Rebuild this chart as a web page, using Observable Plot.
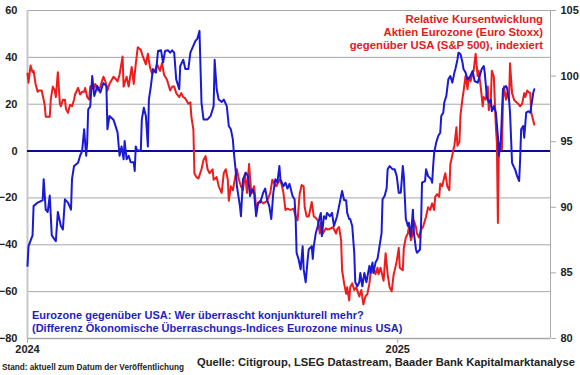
<!DOCTYPE html>
<html>
<head>
<meta charset="utf-8">
<script src="https://cdn.jsdelivr.net/npm/d3@7"></script>
<script src="https://cdn.jsdelivr.net/npm/@observablehq/plot@0.6"></script>
<style>
  body { margin: 0; background: #fff; }
  #wrap { position: relative; width: 580px; height: 375px; font-family: "Liberation Sans", Arial, sans-serif; overflow: hidden; }
  .note { position: absolute; font-weight: bold; white-space: nowrap; line-height: 13.5px; }
  #redNote { right: 37px; top: 13px; text-align: right; color: #e41b1b; font-size: 11.3px; line-height: 13.2px; }
  #blueNote { left: 32px; top: 309px; text-align: left; color: #1f1fc0; font-size: 11px; line-height: 13px; }
  #stand { left: 2px; top: 361px; font-size: 8.2px; color: #222; }
  #quelle { right: 5px; top: 356px; font-size: 11.2px; color: #222; }
</style>
</head>
<body>
<div id="wrap"></div>
<script>
// Blue series: Eurozone minus USA economic surprise index difference (left axis)
const surpriseDates = [
"2024-01-01","2024-01-02","2024-01-06","2024-01-07","2024-01-11","2024-01-16","2024-01-17","2024-01-19","2024-01-21","2024-01-23",
"2024-01-25","2024-01-29","2024-01-31","2024-02-03","2024-02-05","2024-02-07","2024-02-10","2024-02-13","2024-02-14","2024-02-16",
"2024-02-20","2024-02-22","2024-02-24","2024-02-26","2024-02-28","2024-02-29","2024-03-01","2024-03-03","2024-03-05","2024-03-07",
"2024-03-10","2024-03-13","2024-03-16","2024-03-19","2024-03-20","2024-03-22","2024-03-26","2024-03-30","2024-04-01","2024-04-03",
"2024-04-05","2024-04-06","2024-04-08","2024-04-10","2024-04-12","2024-04-15","2024-04-16","2024-04-17","2024-04-18","2024-04-22",
"2024-04-23","2024-04-25","2024-04-27","2024-04-29","2024-04-30","2024-05-02","2024-05-04","2024-05-07","2024-05-09","2024-05-12",
"2024-05-14","2024-05-16","2024-05-19","2024-05-21","2024-05-23","2024-05-25","2024-05-27","2024-05-30","2024-05-31","2024-06-03",
"2024-06-05","2024-06-08","2024-06-10","2024-06-13","2024-06-15","2024-06-17","2024-06-19","2024-06-21","2024-06-23","2024-06-27",
"2024-06-30","2024-07-03","2024-07-04","2024-07-06","2024-07-08","2024-07-11","2024-07-13","2024-07-16","2024-07-18","2024-07-20",
"2024-07-22","2024-07-23","2024-07-25","2024-07-26","2024-07-29","2024-07-30","2024-08-01","2024-08-04","2024-08-06","2024-08-08",
"2024-08-10","2024-08-12","2024-08-14","2024-08-16","2024-08-18","2024-08-21","2024-08-23","2024-08-25","2024-08-27","2024-08-29",
"2024-08-31","2024-09-02","2024-09-04","2024-09-06","2024-09-07","2024-09-10","2024-09-12","2024-09-14","2024-09-16","2024-09-19",
"2024-09-21","2024-09-22","2024-09-23","2024-09-25","2024-09-27","2024-09-29","2024-09-30","2024-10-02","2024-10-04","2024-10-05",
"2024-10-08","2024-10-09","2024-10-10","2024-10-12","2024-10-14","2024-10-16","2024-10-17","2024-10-18","2024-10-20","2024-10-22",
"2024-10-23","2024-10-26","2024-10-28","2024-10-30","2024-11-02","2024-11-04","2024-11-06","2024-11-07","2024-11-09","2024-11-11",
"2024-11-12","2024-11-14","2024-11-15","2024-11-17","2024-11-19","2024-11-20","2024-11-22","2024-11-24","2024-11-25","2024-11-27",
"2024-11-29","2024-12-01","2024-12-04","2024-12-05","2024-12-07","2024-12-08","2024-12-10","2024-12-12","2024-12-14","2024-12-16",
"2024-12-17","2024-12-19","2024-12-21","2024-12-22","2024-12-24","2024-12-27","2024-12-29","2024-12-31","2025-01-02","2025-01-04",
"2025-01-06","2025-01-07","2025-01-09","2025-01-11","2025-01-12","2025-01-14","2025-01-16","2025-01-17","2025-01-19","2025-01-20",
"2025-01-23","2025-01-24","2025-01-25","2025-01-28","2025-01-29","2025-01-31","2025-02-03","2025-02-04","2025-02-05","2025-02-06",
"2025-02-08","2025-02-10","2025-02-12","2025-02-13","2025-02-15","2025-02-16","2025-02-18","2025-02-20","2025-02-22","2025-02-24",
"2025-02-26","2025-02-27","2025-03-01","2025-03-02","2025-03-04","2025-03-06","2025-03-07","2025-03-09","2025-03-11","2025-03-13",
"2025-03-16","2025-03-18","2025-03-21","2025-03-22","2025-03-25","2025-03-27","2025-03-28","2025-03-30","2025-04-01","2025-04-03",
"2025-04-04","2025-04-06","2025-04-08","2025-04-10","2025-04-11","2025-04-13","2025-04-14","2025-04-15","2025-04-18","2025-04-19",
"2025-04-21","2025-04-22","2025-04-24","2025-04-26","2025-04-27","2025-04-29","2025-05-01","2025-05-02","2025-05-03","2025-05-05",
"2025-05-06","2025-05-08","2025-05-10","2025-05-12","2025-05-14","2025-05-15","2025-05-16"
];
const surpriseValues = [
-49,-40.6,-36,-23.5,-22,-21,-12,-25,-26,-19,
-36,-38.5,-26,-32,-33.5,-20.6,-22,-25,-12,-6.4,
-5,-2,0,9.3,-2,3.7,17.8,19,32,23.5,
27.8,25,29,27.8,9.3,15,13.4,8,-2,2,
-3.5,4.3,-3.5,-2,-4.8,-4.8,-8.5,2,0.5,0,
13.5,18.5,15,2,22,27.8,35,33.5,42.7,43,
37.8,42.7,43,42,43,42,30.6,26.4,36.3,39,
35,35,42,45,47,48,51.3,20.7,13.5,13.5,
15,19.2,39,26.4,22,21,22,19.2,10.7,9.3,
5,-0.7,-9.2,-15,-23.5,-27.8,-12,-9.2,-10.7,-19.2,
-16.3,-17.8,-27.8,-22,-22,-17.8,-16,-21,-23.5,-29,
-17.8,-12,-13.5,-6.4,-12,-15,-13.5,-16,-14,-19.2,
-20.6,-27.8,-43.4,-46.3,-50.5,-40.6,-50.5,-56,-46,-42,
-40.6,-46,-40.6,-35,-32,-27.8,-26.4,-36.3,-27.8,-29,
-26.4,-27.8,-26.4,-32,-27.8,-23.5,-19.2,-17,-21,-21,
-26.4,-29,-29,-32,-43.4,-56,-57.7,-56,-52,-57.7,
-52,-56,-49,-52,-47.6,-52,-47.6,-46,-40.6,-35,
-20.6,-19.2,-16,-7.8,-6.4,-7.8,-7.8,-10.7,-17.8,-17.8,
-6.4,-10.7,-29,-32,-30.6,-36.3,-25,-35,-42,-43.4,
-42,-32,-13.5,-12.8,-7.8,-10.7,-12,-13.5,-6.4,-0.7,
3.6,6.4,7.8,15,16.4,20.7,23.5,30.6,32,29.2,
33.5,35,39,42,41.4,37.8,35,33.5,30.6,31.3,
34.2,29.9,29.2,30.6,35,36.3,33.5,23.5,20.7,22,
17,19.2,16.4,6.4,-2,5,16.4,26.4,27.8,27,
22,16.4,-5,-7,-7.8,-10.7,-12.8,-3.5,9.3,10.7,
5.7,16.4,17,16.4,22,25,26.4
];

// Red series: relative performance Euro Stoxx vs S&P 500, indexed (right axis)
const relDates = [
"2024-01-01","2024-01-02","2024-01-04","2024-01-06","2024-01-07","2024-01-09","2024-01-11","2024-01-12","2024-01-15","2024-01-17",
"2024-01-18","2024-01-19","2024-01-21","2024-01-23","2024-01-24","2024-01-26","2024-01-28","2024-01-29","2024-01-31","2024-02-02",
"2024-02-03","2024-02-05","2024-02-07","2024-02-08","2024-02-10","2024-02-12","2024-02-14","2024-02-16","2024-02-17","2024-02-20",
"2024-02-22","2024-02-24","2024-02-26","2024-02-27","2024-02-29","2024-03-02","2024-03-03","2024-03-05","2024-03-07","2024-03-08",
"2024-03-11","2024-03-13","2024-03-16","2024-03-18","2024-03-20","2024-03-22","2024-03-26","2024-03-28","2024-03-30","2024-04-01",
"2024-04-04","2024-04-05","2024-04-08","2024-04-10","2024-04-13","2024-04-15","2024-04-17","2024-04-19","2024-04-22","2024-04-24",
"2024-04-27","2024-04-29","2024-05-01","2024-05-03","2024-05-06","2024-05-08","2024-05-11","2024-05-13","2024-05-15","2024-05-18",
"2024-05-21","2024-05-23","2024-05-25","2024-05-27","2024-05-30","2024-06-01","2024-06-03","2024-06-05","2024-06-08","2024-06-10",
"2024-06-11","2024-06-13","2024-06-14","2024-06-16","2024-06-18","2024-06-21","2024-06-23","2024-06-25","2024-06-27","2024-06-29",
"2024-07-02","2024-07-03","2024-07-06","2024-07-08","2024-07-11","2024-07-13","2024-07-15","2024-07-17","2024-07-18","2024-07-20",
"2024-07-22","2024-07-25","2024-07-26","2024-07-28","2024-07-30","2024-08-01","2024-08-03","2024-08-05","2024-08-07","2024-08-09",
"2024-08-10","2024-08-12","2024-08-14","2024-08-16","2024-08-18","2024-08-21","2024-08-23","2024-08-25","2024-08-28","2024-08-30",
"2024-09-01","2024-09-03","2024-09-06","2024-09-08","2024-09-10","2024-09-12","2024-09-14","2024-09-17","2024-09-20","2024-09-22",
"2024-09-24","2024-09-26","2024-09-28","2024-09-30","2024-10-01","2024-10-03","2024-10-05","2024-10-08","2024-10-10","2024-10-12",
"2024-10-14","2024-10-16","2024-10-17","2024-10-19","2024-10-22","2024-10-24","2024-10-27","2024-10-29","2024-11-01","2024-11-02",
"2024-11-04","2024-11-06","2024-11-07","2024-11-09","2024-11-11","2024-11-12","2024-11-14","2024-11-15","2024-11-17","2024-11-19",
"2024-11-21","2024-11-24","2024-11-26","2024-11-28","2024-11-30","2024-12-02","2024-12-04","2024-12-05","2024-12-07","2024-12-08",
"2024-12-10","2024-12-12","2024-12-13","2024-12-15","2024-12-18","2024-12-20","2024-12-22","2024-12-24","2024-12-26","2024-12-28",
"2024-12-29","2024-12-31","2025-01-02","2025-01-03","2025-01-06","2025-01-07","2025-01-09","2025-01-11","2025-01-12","2025-01-14",
"2025-01-16","2025-01-17","2025-01-19","2025-01-20","2025-01-22","2025-01-24","2025-01-26","2025-01-29","2025-01-31","2025-02-02",
"2025-02-04","2025-02-06","2025-02-07","2025-02-09","2025-02-11","2025-02-12","2025-02-14","2025-02-16","2025-02-17","2025-02-19",
"2025-02-21","2025-02-22","2025-02-23","2025-02-25","2025-02-26","2025-02-28","2025-03-01","2025-03-03","2025-03-04","2025-03-06",
"2025-03-07","2025-03-09","2025-03-11","2025-03-12","2025-03-14","2025-03-16","2025-03-17","2025-03-19","2025-03-21","2025-03-22",
"2025-03-24","2025-03-26","2025-03-27","2025-03-29","2025-03-31","2025-04-01","2025-04-03","2025-04-04","2025-04-06","2025-04-08",
"2025-04-09","2025-04-10","2025-04-11","2025-04-12","2025-04-14","2025-04-15","2025-04-16","2025-04-18","2025-04-19","2025-04-21",
"2025-04-22","2025-04-24","2025-04-26","2025-04-27","2025-04-30","2025-05-02","2025-05-04","2025-05-06","2025-05-07","2025-05-09",
"2025-05-10","2025-05-12","2025-05-13","2025-05-15","2025-05-16"
];
const relValues = [
100.2,99.5,100.8,100.3,100.4,99.4,98.8,98.9,98.9,98.2,
97.8,96.9,96.9,96.9,98.2,99.2,98.9,98.4,100.3,97.9,
97.7,98.2,98.2,97.5,97.2,97.8,97.7,98.2,98.6,99.1,
98.6,98.8,98.8,99.1,98.4,98.2,99.2,99.3,99.1,99.4,
98.9,99.2,99.95,99.6,98.9,99.4,99.95,99.8,99.6,100.1,
101.5,99.2,99.95,99.2,100.7,99.4,100.9,102.2,102,101.5,
100.9,101.7,100.7,100.2,100.4,100.9,100.4,101,100.1,99.7,
98.9,99.2,99.2,98.7,98.4,98.7,98.4,98.3,97.9,98,
96.9,95.9,92.6,92.3,92.2,92.9,93.6,93.9,92.9,92.6,
92.9,92.1,92.3,91.6,91.1,92.6,92.9,92.1,90.5,91.6,
91.3,92.6,92.9,92.1,91.6,91.3,92.6,91.1,93.3,91.3,
91.1,91.6,90,90.3,90.5,90.3,90.4,90.5,91.1,92.1,
91.8,91.6,92.1,91.8,91.1,89.8,89.9,89.8,89.9,89.3,
89,91,91.7,91.6,90,89.3,89.3,90.4,89.3,89.2,
89,88,88.8,88,88.4,88.3,88.4,88.5,88,88.3,
88.5,87.5,85.2,84.2,83.4,83.9,82.9,83.9,84.2,83.7,
83.9,83.2,83.7,82.6,83.2,83.4,84.2,84.9,85.2,85.4,
84.9,85.4,84.9,85.4,84.4,86.5,84.9,83.9,83.6,84.9,
85.2,85.9,86.9,85.4,85.2,86.9,87.7,88,88.5,87.5,
88,89,88.5,88,87.7,88.3,88.5,89.3,90,89.8,
90.3,89.8,90.8,91,90.8,91.8,91.6,92.3,92.6,91.6,
91.3,93.3,93.6,94.4,94.7,96.1,94.7,95,97,98.3,
98.8,100,99,99.9,99.6,100.2,100.4,101.7,100,100.4,
99.2,97.7,98.4,98.2,99.2,97.4,98.2,100.4,99.95,96.1,
94.9,88.8,94.9,94.4,94.4,98.2,99.2,98.2,98.7,98.2,
100.97,98.7,98.2,98.1,97.9,97.7,97.9,98.7,98.4,98.9,
98.8,98.7,97.2,96.6,96.3
];

const leftTicks = [-80, -60, -40, -20, 0, 20, 40, 60];
const rightTicks = [80, 85, 90, 95, 100, 105];
const yearTicks = ["2024-01-01", "2025-01-01"];
const xDomain = ["2024-01-01", "2025-06-01"];

const leftDomain = [-80, 60];
const rightDomain = [80, 105];
const k = (leftDomain[1] - leftDomain[0]) / (rightDomain[1] - rightDomain[0]);
const toLeft = r => (r - rightDomain[0]) * k + leftDomain[0];
const fromLeft = v => (v - leftDomain[0]) / k + rightDomain[0];

const blue = surpriseDates.map((d, i) => ({date: new Date(d), value: surpriseValues[i]}));
const red = relDates.map((d, i) => ({date: new Date(d), value: toLeft(relValues[i])}));
const xd = xDomain.map(d => new Date(d));

const chart = Plot.plot({
  width: 580,
  height: 375,
  marginLeft: 27,
  marginRight: 30,
  marginTop: 10,
  marginBottom: 37,
  style: {fontFamily: '"Liberation Sans", Arial, sans-serif', fontSize: "11px", fontWeight: "bold", color: "#222", background: "transparent"},
  x: {type: "utc", domain: xd},
  y: {domain: leftDomain},
  marks: [
    Plot.ruleY(leftTicks, {stroke: "#a8a8a8", strokeWidth: 1}),
    Plot.ruleX([xd[0]], {stroke: "#c8c8c8", strokeWidth: 2}),
    Plot.ruleX([xd[1]], {stroke: "#a8a8a8", strokeWidth: 1}),
    Plot.ruleY([leftDomain[0]], {stroke: "#a8a8a8", strokeWidth: 1.5}),
    Plot.ruleY([0], {stroke: "#0a0a9a", strokeWidth: 2}),
    Plot.lineY(red, {x: "date", y: "value", stroke: "#ee1c1c", strokeWidth: 2}),
    Plot.lineY(blue, {x: "date", y: "value", stroke: "#1a1ad6", strokeWidth: 2}),
    Plot.axisY(leftTicks, {anchor: "left", tickSize: 0, tickPadding: 10, label: null, fill: "#222"}),
    Plot.axisY(rightTicks.map(toLeft), {anchor: "right", tickSize: 5, tickPadding: 5, label: null, stroke: "#a8a8a8", fill: "#222",
      tickFormat: v => String(Math.round(fromLeft(v)))}),
    Plot.axisX(yearTicks.map(d => new Date(d)), {tickSize: 5, tickPadding: 2, label: null, stroke: "#a8a8a8", fill: "#222",
      tickFormat: d => String(d.getUTCFullYear())})
  ]
});

const wrap = document.getElementById("wrap");
wrap.appendChild(chart);

function addNote(id, lines) {
  const div = document.createElement("div");
  div.id = id;
  div.className = "note";
  div.innerHTML = lines.map(s => s.replace(/&/g, "&amp;")).join("<br>");
  wrap.appendChild(div);
}
addNote("redNote", ["Relative Kursentwicklung", "Aktien Eurozone (Euro Stoxx)", "gegenüber USA (S&P 500), indexiert"]);
addNote("blueNote", ["Eurozone gegenüber USA: Wer überrascht konjunkturell mehr?", "(Differenz Ökonomische Überraschungs-Indices Eurozone minus USA)"]);
addNote("stand", ["Stand: aktuell zum Datum der Veröffentlichung"]);
addNote("quelle", ["Quelle: Citigroup, LSEG Datastream, Baader Bank Kapitalmarktanalyse"]);
</script>
</body>
</html>
